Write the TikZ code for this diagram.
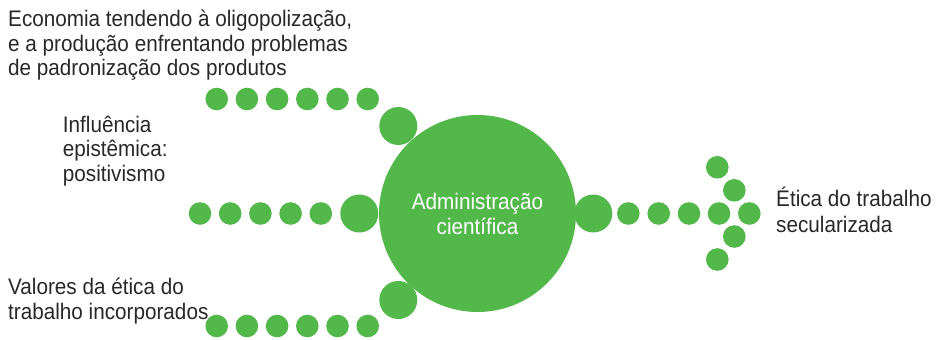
\documentclass[tikz,border=0pt]{standalone}
\usepackage{fontspec}
\setmainfont{Liberation Sans}[FakeStretch=0.92]
\usepackage{xcolor}
\usetikzlibrary{positioning}

\definecolor{dotgreen}{RGB}{82,184,74}
\definecolor{txtgray}{RGB}{40,40,40}

\begin{document}
\begin{tikzpicture}[x=1pt, y=-1pt,
    dot/.style={circle, fill=dotgreen, inner sep=0pt, minimum size=22.6pt},
    bigdot/.style={circle, fill=dotgreen, inner sep=0pt, minimum size=38pt},
    lbl/.style={anchor=base west, align=left, inner sep=0pt, text=txtgray, font=\fontsize{22.5}{24.5}\selectfont}]
                        \useasboundingbox (0, 0) rectangle (940, 340);

                        \node[circle, fill=dotgreen, inner sep=0pt, minimum size=197pt, text=white, align=center, font=\fontsize{22.5}{25}\selectfont] (adm) at (477.5, 213.5) {Administração\\científica};

                        % labels, anchored on their last line
                        \node[lbl] (econ) at (8, 75.5) {Economia tendendo à oligopolização,\\e a produção enfrentando problemas\\de padronização dos produtos};
                        \node[lbl] (infl) at (62.7, 181) {Influência\\epistêmica:\\positivismo};
                        \node[lbl] (valo) at (8, 319) {Valores da ética do\\trabalho incorporados};
                        \node[lbl, font=\fontsize{22.5}{26}\selectfont] (etic) at (776, 232.7) {Ética do trabalho\\secularizada};

                        % upper row
                        \node[dot] (t1) at (216.7, 99) {};
                        \node[dot] (t2) at (246.9, 99) {};
                        \node[dot] (t3) at (277.1, 99) {};
                        \node[dot] (t4) at (307.3, 99) {};
                        \node[dot] (t5) at (337.5, 99) {};
                        \node[dot] (t6) at (367.7, 99) {};
                        \node[bigdot] (tb) at (398.3, 126) {};

                        % middle row
                        \node[dot] (m1) at (200, 213.5) {};
                        \node[dot] (m2) at (230.2, 213.5) {};
                        \node[dot] (m3) at (260.4, 213.5) {};
                        \node[dot] (m4) at (290.6, 213.5) {};
                        \node[dot] (m5) at (320.8, 213.5) {};
                        \node[bigdot] (mb) at (359.3, 213.5) {};

                        % lower row
                        \node[dot] (b1) at (216.7, 326) {};
                        \node[dot] (b2) at (246.9, 326) {};
                        \node[dot] (b3) at (277.1, 326) {};
                        \node[dot] (b4) at (307.3, 326) {};
                        \node[dot] (b5) at (337.5, 326) {};
                        \node[dot] (b6) at (367.7, 326) {};
                        \node[bigdot] (bb) at (398.3, 300) {};

                        % outgoing arrow
                        \node[bigdot] (ob) at (593.3, 213.5) {};
                        \node[dot] (o1) at (628.3, 213.5) {};
                        \node[dot] (o2) at (658.7, 213.5) {};
                        \node[dot] (o3) at (689, 213.5) {};
                        \node[dot] (o4) at (719, 213.5) {};
                        \node[dot] (o5) at (749.3, 213.5) {};
                        \node[dot] (h1) at (717.3, 167.3) {};
                        \node[dot] (h2) at (734.3, 190.3) {};
                        \node[dot] (h3) at (734.3, 236.5) {};
                        \node[dot] (h4) at (717.3, 259.5) {};
                    \end{tikzpicture}
\end{document}
